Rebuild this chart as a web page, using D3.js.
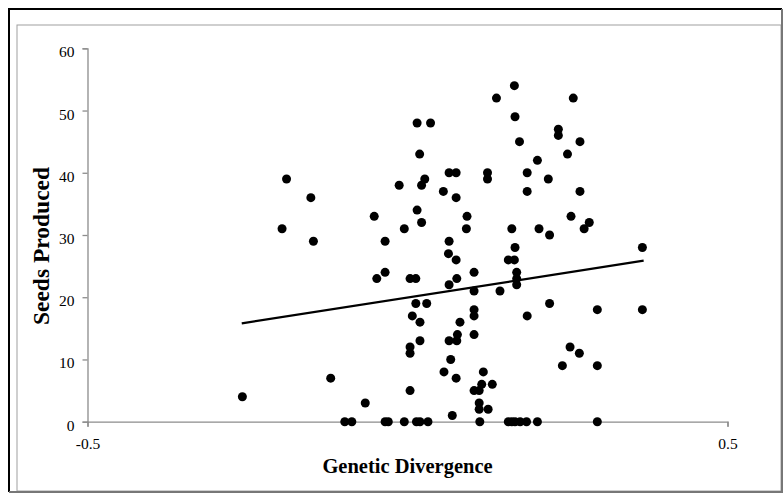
<!DOCTYPE html>
<html>
<head>
<meta charset="utf-8">
<script src="https://cdn.jsdelivr.net/npm/d3@7"></script>
<style>
  body { margin: 0; background: #fff; }
  svg { display: block; }
</style>
</head>
<body>
<div id="chart"></div>
<script>
// genetic divergence (x) and seeds produced (y)
const divergence = [
  -0.258, -0.196, -0.189, -0.151, -0.147, -0.120, -0.098, -0.087, -0.066, -0.052,
  -0.048, -0.035, -0.035, -0.035, -0.030, -0.013, -0.005, -0.005, 0.004, 0.013,
  0.004, 0.004, 0.004, 0.0075, 0.013, 0.015, 0.015, 0.019, 0.022, 0.022,
  0.0195, 0.0195, 0.014, 0.0195, 0.027, 0.030, 0.032, 0.036, 0.056, 0.057,
  0.065, 0.065, 0.064, 0.065, 0.065, 0.0675, 0.070, 0.076, 0.076, 0.076,
  0.077, 0.077, 0.078, 0.076, 0.082, 0.092, 0.093, 0.104, 0.104, 0.104,
  0.104, 0.104, 0.104, 0.112, 0.116, 0.112, 0.112, 0.113, 0.1185, 0.125,
  0.125, 0.126, 0.1325, 0.139, 0.1445, 0.1575, 0.163, 0.167, 0.1575, 0.167,
  0.168, 0.168, 0.1706, 0.1706, 0.1706, 0.163, 0.168, 0.175, 0.176, 0.187,
  0.187, 0.187, 0.186, 0.203, 0.2055, 0.203, 0.220, 0.222, 0.222, 0.2357,
  0.2357, 0.242, 0.250, 0.254, 0.2555, 0.259, 0.2685, 0.2695, 0.2695, 0.276,
  0.284, 0.2966, 0.2966, 0.2966, 0.367, 0.367
];
const seeds = [
  4, 31, 39, 36, 29, 7, 0, 0, 3, 33,
  23, 29, 24, 0, 0, 38, 31, 0, 23, 23,
  12, 11, 5, 17, 19, 48, 34, 43, 38, 32,
  16, 13, 0, 0, 39, 19, 0, 48, 37, 8,
  40, 29, 27, 22, 13, 10, 1, 40, 36, 26,
  23, 13, 14, 7, 16, 31, 33, 24, 21, 18,
  17, 14, 5, 5, 6, 3, 2, 0, 8, 40,
  39, 2, 6, 52, 21, 26, 31, 26, 0, 54,
  49, 28, 24, 23, 22, 0, 0, 45, 0, 40,
  37, 17, 0, 42, 31, 0, 39, 30, 19, 47,
  46, 9, 43, 12, 33, 52, 11, 45, 37, 31,
  32, 18, 9, 0, 28, 18
];
// linear trendline end points
const trendX = [-0.259, 0.369];
const trendY = [15.8, 25.87];

const xTicks = [-0.5, 0.5];
const yTicks = [0, 10, 20, 30, 40, 50, 60];

const width = 784, height = 493;
const margin = { top: 48.3, right: 56.5, bottom: 71.3, left: 87.5 };

const svg = d3.select("#chart").append("svg")
  .attr("width", width)
  .attr("height", height);

// chart frame
svg.append("rect")
  .attr("x", 17).attr("y", 25)
  .attr("width", 764).attr("height", 466)
  .attr("fill", "none").attr("stroke", "#a0a0a0").attr("stroke-width", 1);
svg.append("path")
  .attr("d", "M9,492V9H782")
  .attr("fill", "none").attr("stroke", "#000").attr("stroke-width", 2);
svg.append("path")
  .attr("d", "M782,9V492H9")
  .attr("fill", "none").attr("stroke", "#777").attr("stroke-width", 2);

const x = d3.scaleLinear()
  .domain([-0.5, 0.5])
  .range([margin.left, width - margin.right]);
const y = d3.scaleLinear()
  .domain([0, 60])
  .range([height - margin.bottom, margin.top]);

const axisColor = "#8c8c8c";

const yAxis = svg.append("g")
  .attr("transform", "translate(" + margin.left + ",0)")
  .call(d3.axisLeft(y).tickValues(yTicks).tickSize(5).tickPadding(8).tickFormat(d3.format("d")));

const xAxis = svg.append("g")
  .attr("transform", "translate(0," + (height - margin.bottom) + ")")
  .call(d3.axisBottom(x).tickValues(xTicks).tickSize(5).tickPadding(11).tickFormat(d => String(d)));

[xAxis, yAxis].forEach(g => {
  g.select(".domain").attr("stroke", axisColor).attr("stroke-width", 1.3);
  g.selectAll(".tick line").attr("stroke", axisColor).attr("stroke-width", 1.3);
  g.selectAll(".tick text")
    .attr("fill", "#000")
    .style("font-family", "'Liberation Serif', 'Times New Roman', serif")
    .style("font-size", "15.5px");
});
yAxis.selectAll(".tick text").attr("dy", "0.55em");

// points
const pts = divergence.map((d, i) => ({ x: d, y: seeds[i] }));
svg.append("g")
  .selectAll("circle")
  .data(pts)
  .enter()
  .append("circle")
  .attr("cx", d => x(d.x))
  .attr("cy", d => y(d.y))
  .attr("r", 4.5)
  .attr("fill", "#000");

// trendline
svg.append("path")
  .datum(trendX.map((d, i) => [d, trendY[i]]))
  .attr("fill", "none")
  .attr("stroke", "#000")
  .attr("stroke-width", 2.2)
  .attr("d", d3.line().x(d => x(d[0])).y(d => y(d[1])));

// axis titles
svg.append("text")
  .attr("x", (x.range()[0] + x.range()[1]) / 2)
  .attr("y", 473)
  .attr("text-anchor", "middle")
  .style("font-family", "'Liberation Serif', 'Times New Roman', serif")
  .style("font-size", "20.5px")
  .style("font-weight", "bold")
  .text("Genetic Divergence");

svg.append("text")
  .attr("transform", "translate(49,246)rotate(-90)")
  .attr("text-anchor", "middle")
  .style("font-family", "'Liberation Serif', 'Times New Roman', serif")
  .style("font-size", "23.5px")
  .style("font-weight", "bold")
  .text("Seeds Produced");
</script>
</body>
</html>
